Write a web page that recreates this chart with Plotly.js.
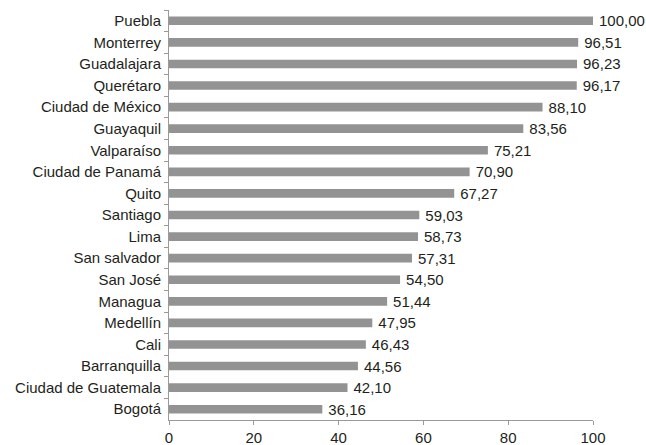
<!DOCTYPE html>
<html>
<head>
<meta charset="utf-8">
<script src="https://cdn.plot.ly/plotly-3.0.1.min.js"></script>
<style>html,body{margin:0;padding:0;background:#fff;}#chart{width:646px;height:445px;}</style>
</head>
<body>
<div id="chart"></div>
<script>
const cities = ["Puebla","Monterrey","Guadalajara","Querétaro","Ciudad de México","Guayaquil","Valparaíso","Ciudad de Panamá","Quito","Santiago","Lima","San salvador","San José","Managua","Medellín","Cali","Barranquilla","Ciudad de Guatemala","Bogotá"];
const values = [100.00,96.51,96.23,96.17,88.10,83.56,75.21,70.90,67.27,59.03,58.73,57.31,54.50,51.44,47.95,46.43,44.56,42.10,36.16];
const xTicks = [0,20,40,60,80,100];

const trace = {
  type: 'bar',
  orientation: 'h',
  x: values,
  y: cities,
  marker: {color: '#939393'},
  texttemplate: '\u2009%{x:.2f}',
  textposition: 'outside',
  constraintext: 'none',
  cliponaxis: false,
  textfont: {color: '#231f20', size: 15},
  hoverinfo: 'none'
};

const layout = {
  width: 646, height: 445,
  margin: {l: 169, r: 53, t: 10, b: 25},
  paper_bgcolor: '#fff', plot_bgcolor: '#fff',
  separators: ', ',
  font: {family: '"Liberation Sans", Arial, Helvetica, sans-serif', size: 15, color: '#231f20'},
  bargap: 0.6,
  showlegend: false,
  xaxis: {
    range: [0, 100], tickvals: xTicks, ticktext: xTicks.map(String),
    showgrid: false, zeroline: false, showline: true, linecolor: '#9a9a9a', linewidth: 1,
    ticks: 'outside', ticklen: 4, tickcolor: '#9a9a9a', tickfont: {size: 15}, fixedrange: true
  },
  yaxis: {
    type: 'category', autorange: 'reversed',
    showgrid: false, zeroline: false, showline: true, linecolor: '#9a9a9a', linewidth: 1,
    ticks: 'outside', tickson: 'boundaries', ticklen: 4, tickcolor: '#9a9a9a',
    tickfont: {size: 15}, ticklabelstandoff: 4, fixedrange: true
  }
};

Plotly.newPlot('chart', [trace], layout, {staticPlot: true});
</script>
</body>
</html>
